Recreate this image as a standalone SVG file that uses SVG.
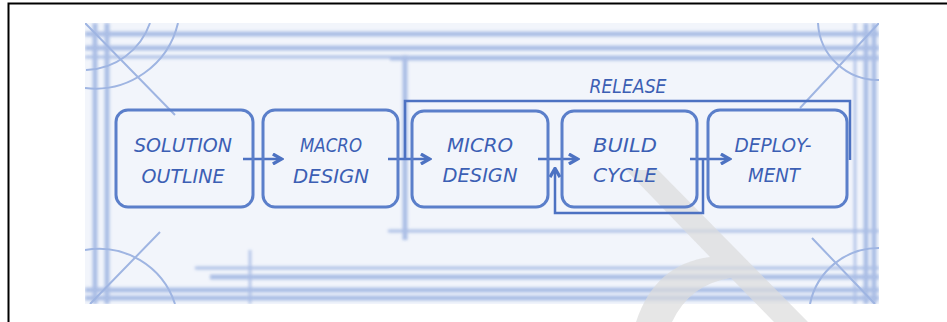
<svg xmlns="http://www.w3.org/2000/svg" width="947" height="322" viewBox="0 0 947 322">
<style>
.bg{fill:none;stroke:#9fb5e2;}
.box{fill:none;stroke:#5b7fca;stroke-width:3;}
.t{font-family:"DejaVu Sans","Liberation Sans",sans-serif;font-style:oblique;font-size:20px;fill:#3c5fb4;text-anchor:middle;}
.c{fill:none;stroke:#4d72c2;stroke-width:2.5;}
</style>
<defs>
<filter id="blur" x="-5%" y="-5%" width="110%" height="110%"><feGaussianBlur stdDeviation="1.6"/></filter>
<filter id="blur2" x="-5%" y="-5%" width="110%" height="110%"><feGaussianBlur stdDeviation="0.6"/></filter>
<marker id="ah" viewBox="0 0 10 10" refX="8" refY="5" markerWidth="5" markerHeight="5" orient="auto" markerUnits="strokeWidth">
<path d="M1.5 1 L8.5 5 L1.5 9" fill="none" stroke="#4d72c2" stroke-width="2.6"/>
</marker>
<clipPath id="frame"><rect x="85" y="23" width="794" height="281"/></clipPath>
</defs>
<rect width="947" height="322" fill="#fff"/>
<path d="M8.5 322 V3.5 H947" fill="none" stroke="#000" stroke-width="2"/>
<g id="background" clip-path="url(#frame)">
<rect x="85" y="23" width="794" height="281" fill="#f2f5fb"/>
<g filter="url(#blur)" opacity="0.85">
<path class="bg" stroke-width="5" d="M85 34 H879 M85 48 H879 M85 290 H879 M85 298 H879 M210 277 H879"/>
<path class="bg" stroke-width="3" d="M85 57 H879 M390 59 H879 M388 231 H879 M195 268 H879"/>
<path class="bg" stroke-width="5" d="M95 23 V304 M107 23 V304 M866 23 V304 M874 23 V304"/>
<path class="bg" stroke-width="5" d="M405 55 V240"/>
<path class="bg" stroke-width="2.5" d="M855 23 V304 M250 250 V304"/>
</g>
<g filter="url(#blur2)">
<path class="bg" stroke="#7c99d4" stroke-width="2" d="M85 23 L175 115 M879 23 L800 108 M90 304 L160 232 M875 304 L812 238"/>
<path class="bg" stroke-width="2" d="M85 88 A85 85 0 0 0 178 23 M86 70 A70 70 0 0 0 150 23 M85 250 A80 80 0 0 1 175 304 M818 23 A60 60 0 0 0 879 80 M879 248 A70 70 0 0 0 810 304"/>
</g>
</g>
<path id="watermark" fill="#dcdcdc" fill-opacity="0.7" d="M626 170 L658 170 L808 322 L774 322 L731 278 Q690 284 672 322 L636 322 Q655 264 710 257 Z"/>
<g id="connectors">
<path class="c" d="M243 159 H281" marker-end="url(#ah)"/>
<path class="c" d="M388 159 H429" marker-end="url(#ah)"/>
<path class="c" d="M538 159 H577" marker-end="url(#ah)"/>
<path class="c" d="M690 159 H729" marker-end="url(#ah)"/>
<path class="c" d="M405 160 V101 H850 V160"/>
<path class="c" d="M703 159 V213 H555 V169" marker-end="url(#ah)"/>
</g>
<g id="solution-outline">
<rect class="box" x="116" y="110" width="137" height="97" rx="12"/>
<text class="t" x="183" y="152" textLength="98" lengthAdjust="spacingAndGlyphs">SOLUTION</text>
<text class="t" x="183" y="183" textLength="83" lengthAdjust="spacingAndGlyphs">OUTLINE</text>
</g>
<g id="macro-design">
<rect class="box" x="263" y="110" width="135" height="97" rx="12"/>
<text class="t" x="331" y="152" textLength="62" lengthAdjust="spacingAndGlyphs">MACRO</text>
<text class="t" x="331" y="183" textLength="76" lengthAdjust="spacingAndGlyphs">DESIGN</text>
</g>
<g id="micro-design">
<rect class="box" x="412" y="111" width="136" height="96" rx="12"/>
<text class="t" x="480" y="152" textLength="66" lengthAdjust="spacingAndGlyphs">MICRO</text>
<text class="t" x="480" y="182" textLength="75" lengthAdjust="spacingAndGlyphs">DESIGN</text>
</g>
<g id="build-cycle">
<rect class="box" x="562" y="111" width="135" height="96" rx="12"/>
<text class="t" x="625" y="152" textLength="64" lengthAdjust="spacingAndGlyphs">BUILD</text>
<text class="t" x="625" y="182" textLength="64" lengthAdjust="spacingAndGlyphs">CYCLE</text>
</g>
<g id="deployment">
<rect class="box" x="708" y="110" width="139" height="97" rx="12"/>
<text class="t" x="773" y="152" textLength="77" lengthAdjust="spacingAndGlyphs">DEPLOY-</text>
<text class="t" x="774" y="182" textLength="52" lengthAdjust="spacingAndGlyphs">MENT</text>
</g>
<g id="release">
<text class="t" x="628" y="93" textLength="77" lengthAdjust="spacingAndGlyphs">RELEASE</text>
</g>
</svg>
